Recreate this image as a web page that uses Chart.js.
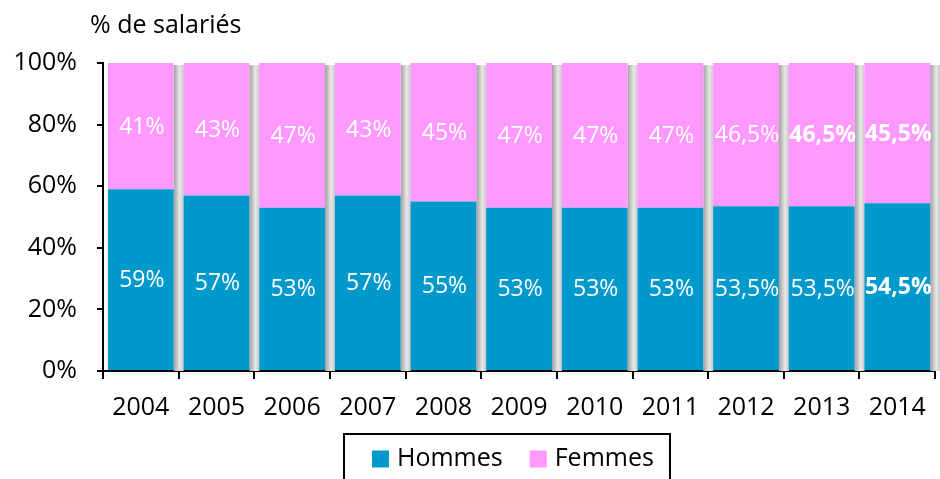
<!DOCTYPE html>
<html>
<head>
<meta charset="utf-8">
<script src="https://cdn.jsdelivr.net/npm/chart.js@4.4.0/dist/chart.umd.min.js"></script>
<style>
  html, body { margin: 0; padding: 0; background: #fff; }
  #wrap { width: 940px; height: 479px; }
</style>
</head>
<body>
<div id="wrap"><canvas id="myChart" width="940" height="479"></canvas></div>
<script>
var years = ['2004', '2005', '2006', '2007', '2008', '2009', '2010', '2011', '2012', '2013', '2014'];
var hommes = [59, 57, 53, 57, 55, 53, 53, 53, 53.5, 53.5, 54.5];
var femmes = [41, 43, 47, 43, 45, 47, 47, 47, 46.5, 46.5, 45.5];
// which labels are written in bold
var hommesBold = [false, false, false, false, false, false, false, false, false, false, true];
var femmesBold = [false, false, false, false, false, false, false, false, false, true, true];
var yTicks = [0, 20, 40, 60, 80, 100];

var FONT = "'Open Sans', sans-serif";

// gray shadow on the right side of each bar
var barShadow = {
    id: 'barShadow',
    beforeDatasetsDraw: function(chart) {
        var ctx = chart.ctx;
        var top = chart.scales.y.getPixelForValue(100);
        var base = chart.scales.y.getPixelForValue(0);
        var meta = chart.getDatasetMeta(0);
        ctx.save();
        meta.data.forEach(function(bar) {
            var x0 = bar.x + bar.width / 2;
            var g = ctx.createLinearGradient(x0, 0, x0 + 10, 0);
            g.addColorStop(0, '#a0a0a0');
            g.addColorStop(0.6, '#e8e8e8');
            g.addColorStop(1, '#c8c8c8');
            ctx.fillStyle = g;
            ctx.fillRect(x0, top + 2, 10, base - top - 2);
        });
        ctx.restore();
    }
};

// white value labels in the middle of each segment
var barLabels = {
    id: 'barLabels',
    afterDatasetsDraw: function(chart) {
        var ctx = chart.ctx;
        var bolds = [hommesBold, femmesBold];
        ctx.save();
        ctx.fillStyle = '#fff';
        ctx.textAlign = 'center';
        ctx.textBaseline = 'middle';
        chart.data.datasets.forEach(function(ds, di) {
            chart.getDatasetMeta(di).data.forEach(function(bar, i) {
                var txt = String(ds.data[i]).replace('.', ',') + '%';
                ctx.font = (bolds[di][i] ? 'bold ' : '') + '23px ' + FONT;
                ctx.fillText(txt, bar.x + 1, (bar.y + bar.base) / 2 + 1);
            });
        });
        ctx.restore();
    }
};

// axis title top left and the framed legend at the bottom
var extras = {
    id: 'extras',
    afterDraw: function(chart) {
        var ctx = chart.ctx;
        ctx.save();
        ctx.fillStyle = '#000';
        ctx.font = '25px ' + FONT;
        ctx.textAlign = 'left';
        ctx.textBaseline = 'alphabetic';
        ctx.fillText('% de salariés', 90, 33);

        // legend
        ctx.font = '25px ' + FONT;
        ctx.textBaseline = 'middle';
        var x = 372, y = 459;
        chart.data.datasets.forEach(function(ds) {
            ctx.fillStyle = ds.backgroundColor;
            ctx.fillRect(x, y - 8.5, 17, 17);
            ctx.fillStyle = '#000';
            ctx.fillText(ds.label, x + 25, y);
            x += 25 + ctx.measureText(ds.label).width + 27;
        });
        ctx.strokeStyle = '#000';
        ctx.lineWidth = 2;
        ctx.strokeRect(344, 434, 326, 60);
        ctx.restore();
    }
};

var ctx = document.getElementById('myChart').getContext('2d');
var myChart = new Chart(ctx, {
    type: 'bar',
    data: {
        labels: years,
        datasets: [{
            label: 'Hommes',
            data: hommes,
            backgroundColor: '#0099cc',
            barPercentage: 0.87,
            categoryPercentage: 1
        }, {
            label: 'Femmes',
            data: femmes,
            backgroundColor: '#ff99ff',
            barPercentage: 0.87,
            categoryPercentage: 1
        }]
    },
    options: {
        responsive: false,
        animation: false,
        layout: { padding: { top: 63, left: 0, right: 2, bottom: 0 } },
        plugins: {
            legend: { display: false },
            tooltip: { enabled: false }
        },
        scales: {
            x: {
                stacked: true,
                offset: true,
                grid: { offset: true, drawOnChartArea: false, tickLength: 8, color: '#000', lineWidth: 2 },
                border: { color: '#000', width: 2 },
                ticks: { color: '#000', padding: 14, maxRotation: 0, font: { family: FONT, size: 25 } },
                afterFit: function(s) { s.height = 108; }
            },
            y: {
                stacked: true,
                min: 0,
                max: 100,
                afterBuildTicks: function(s) { s.ticks = yTicks.map(function(v) { return { value: v }; }); },
                grid: { drawOnChartArea: false, tickLength: 6, color: '#000', lineWidth: 2 },
                border: { color: '#000', width: 2 },
                ticks: {
                    color: '#000',
                    padding: 20,
                    font: { family: FONT, size: 25 },
                    callback: function(v) { return v + '%'; }
                },
                afterFit: function(s) { s.width = 103; }
            }
        }
    },
    plugins: [barShadow, barLabels, extras]
});
</script>
</body>
</html>
